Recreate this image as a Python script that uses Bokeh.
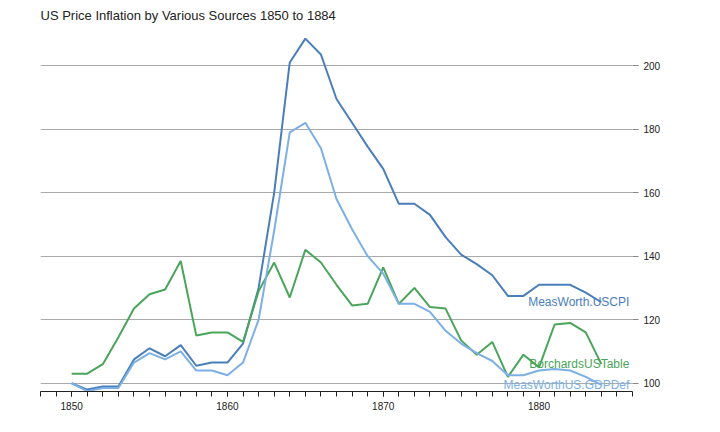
from bokeh.plotting import figure
from bokeh.models import Range1d, LinearAxis, FixedTicker
from bokeh.core.properties import value
from bokeh.embed import file_html
from bokeh.resources import INLINE

years = list(range(1850, 1885))
uscpi = [100, 98, 99, 99, 107.5, 111, 108.5, 112, 105.5, 106.5, 106.5, 112.5, 130, 160,
         201, 208.5, 203.5, 189.5, 182, 174.5, 167.5, 156.5, 156.5, 153, 146, 140.5,
         137.5, 134, 127.5, 127.5, 131, 131, 131, 128.5, 125.5]
gdpdef = [100, 97.5, 98.5, 98.5, 106.5, 109.5, 107.5, 110, 104, 104, 102.5, 106.5, 120,
          148, 179, 182, 174, 158, 148.5, 140, 134.5, 125, 125, 122.5, 116.5, 112.5,
          109.5, 107, 102.5, 102.5, 104, 104.5, 104, 102, 99.5]
borchards = [103, 103, 106, 114.5, 123.5, 128, 129.5, 138.5, 115, 116, 116, 113, 129,
             138, 127, 142, 138, 131, 124.5, 125, 136.5, 125, 130, 124, 123.5, 113.5,
             109, 113, 102, 109, 105, 118.5, 119, 116, 106]
series = [
    ("MeasWorth.USCPI", uscpi, "#4a7ebb"),
    ("BorchardsUSTable", borchards, "#4aa55a"),
    ("MeasWorthUS.GDPDef", gdpdef, "#7cb0e4"),
]
y_ticks = [100, 120, 140, 160, 180, 200]
x_ticks = [1850, 1860, 1870, 1880]

p = figure(width=704, height=416, output_backend="svg", toolbar_location=None,
           x_range=Range1d(1848, 1886), y_range=Range1d(97.4, 212),
           title="US Price Inflation by Various Sources 1850 to 1884",
           min_border_left=40, min_border_right=72, min_border_top=10,
           min_border_bottom=25, y_axis_location=None)
p.title.text_font = "Arial"
p.title.text_font_size = "13px"
p.title.text_font_style = "normal"
p.title.text_color = "#222222"
p.outline_line_color = None
p.background_fill_color = "white"

yaxis = LinearAxis(ticker=FixedTicker(ticks=y_ticks))
yaxis.axis_line_color = None
yaxis.major_tick_line_color = "#888888"
yaxis.major_tick_in = 0
yaxis.major_tick_out = 6
yaxis.minor_tick_line_color = None
yaxis.major_label_text_font_size = "10px"
yaxis.major_label_text_color = "#222222"
p.add_layout(yaxis, "right")

xa = p.xaxis[0]
xa.ticker = FixedTicker(ticks=x_ticks, minor_ticks=list(range(1848, 1887)))
xa.axis_line_color = "#222222"
xa.major_tick_line_color = "#222222"
xa.minor_tick_line_color = "#222222"
xa.major_tick_in = 0
xa.major_tick_out = 5
xa.minor_tick_in = 0
xa.minor_tick_out = 5
xa.major_label_text_font_size = "10px"
xa.major_label_text_color = "#222222"

p.xgrid.grid_line_color = None
p.ygrid.ticker = FixedTicker(ticks=y_ticks)
p.ygrid.grid_line_color = "#aaaaaa"

for name, vals, color in series:
    p.line(years, vals, line_color=color, line_width=2)
    p.text(x=[years[-1]], y=[vals[-1]], text=[name], text_align="right",
           text_baseline="middle", x_offset=28, text_color=color,
           text_font=value("Arial"), text_font_size="12px")

open("out.html", "w").write(file_html(p, INLINE))
